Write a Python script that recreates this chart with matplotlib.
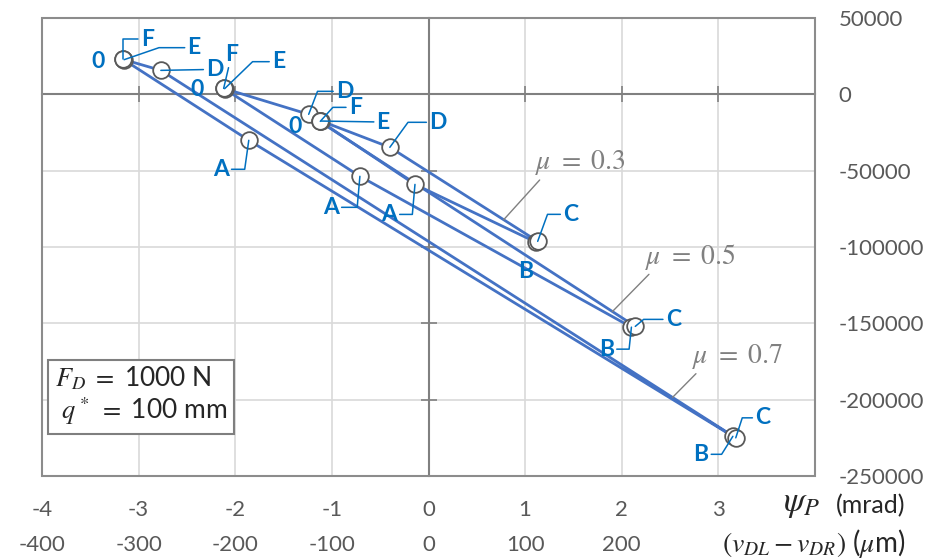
import matplotlib
matplotlib.use("Agg")
import matplotlib.pyplot as plt
from matplotlib.patches import Rectangle

plt.rcParams["font.family"] = ["Lato", "DejaVu Sans"]
plt.rcParams["mathtext.fontset"] = "stix"

# %% data: points 0, A, B, C, D, E, F of each loop
point_names = ["0", "A", "B", "C", "D", "E", "F"]
mu_values = [0.7, 0.5, 0.3]
psi_07 = [-3.16, -1.86, 3.15, 3.18, -2.77, -3.15, -3.16]
val_07 = [22900, -30100, -224000, -225000, 15700, 22700, 22900]
psi_05 = [-2.12, -0.71, 2.10, 2.14, -1.24, -2.11, -2.12]
val_05 = [3900, -53700, -152500, -152000, -13100, 3700, 3900]
psi_03 = [-1.12, -0.14, 1.11, 1.13, -0.40, -1.11, -1.12]
val_03 = [-17700, -59000, -96800, -96300, -34700, -17500, -17700]

x_ticks = [-4, -3, -2, -1, 0, 1, 2, 3, 4]
x_labels = ["-4", "-3", "-2", "-1", "0", "1", "2", "3", ""]
um_ticks = [-400, -300, -200, -100, 0, 100, 200]
y_ticks = [50000, 0, -50000, -100000, -150000, -200000, -250000]
y_labels = ["50000", "0", "-50000", "-100000", "-150000", "-200000", "-250000"]

curves = [(psi_07, val_07), (psi_05, val_05), (psi_03, val_03)]

# label placement: (curve, point, text offset px right/up, leader angle at point)
point_labels = [
    (0, "0", -25, -2, None), (0, "F", 24, 20, 90), (0, "E", 70, 12, 19),
    (0, "D", 54, 1, 0), (0, "A", -28, -29, 82), (0, "B", -32, -18, 58),
    (0, "C", 27, 20, 72),
    (1, "0", -27, -1, None), (1, "F", 8, 34, 0), (1, "E", 54, 27, 44),
    (1, "D", 36, 23, 69), (1, "A", -29, -31, 85), (1, "B", -25, -22, 84),
    (1, "C", 38, 7, 40),
    (2, "0", -25, -5, None), (2, "F", 35, 14, 48), (2, "E", 62, -1, 0),
    (2, "D", 48, 25, 54), (2, "A", -26, -30, 85), (2, "B", -10, -29, None),
    (2, "C", 33, 27, 70),
]
# mu labels: fraction along C->D line, text offset px
mu_labels = [(0, 0.11, 65, 41), (1, 0.07, 78, 55), (2, 0.23, 77, 57)]

blue = "#4472C4"
label_blue = "#0070C0"
px = 0.72  # points per pixel at dpi 100

fig = plt.figure(figsize=(9.26, 5.58), dpi=100)
ax = fig.add_axes([42 / 926, 1 - 476 / 558, 773 / 926, 458 / 558])
ax.set_xlim(-4, 4)
ax.set_ylim(-250000, 50000)

for psi, val in curves:
    ax.plot(psi + psi[:1], val + val[:1], color=blue, lw=2.0, zorder=3)
for psi, val in curves:
    ax.plot(psi, val, ls="none", marker="o", ms=12, mfc="white",
            mec="#595959", mew=1.3, zorder=4)

for ci, name, dx, dy, ang in point_labels:
    psi, val = curves[ci]
    i = point_names.index(name)
    if ang is None:
        arrow = None
    elif ang == 0:
        arrow = dict(arrowstyle="-", color=label_blue, lw=1.1, shrinkA=0, shrinkB=0)
    else:
        arrow = dict(arrowstyle="-", color=label_blue, lw=1.1, shrinkA=0, shrinkB=0,
                     connectionstyle=f"angle,angleA=0,angleB={ang},rad=0")
    ax.annotate(name, (psi[i], val[i]), xytext=(dx * px, dy * px),
                textcoords="offset points", ha="center", va="center",
                fontsize=16.5, fontweight="bold", color=label_blue,
                arrowprops=arrow, zorder=5)

for ci, t, dx, dy in mu_labels:
    psi, val = curves[ci]
    xa = psi[3] + t * (psi[4] - psi[3])
    ya = val[3] + t * (val[4] - val[3])
    ax.annotate(rf"$\mu\ =\ {mu_values[ci]}$", (xa, ya), xytext=(dx * px, dy * px),
                textcoords="offset points", ha="center", va="center",
                fontsize=20, color="#808080",
                arrowprops=dict(arrowstyle="-", color="#808080", lw=1.0,
                                shrinkA=0, shrinkB=0, relpos=(0.09, 0.05)),
                zorder=5)

# axes look: axis lines through zero, grey frame, light grid
for s in ["top", "right"]:
    ax.spines[s].set_visible(False)
for s in ["left", "bottom"]:
    ax.spines[s].set_position(("data", 0))
    ax.spines[s].set_color("#808080")
    ax.spines[s].set_linewidth(1.5)
    ax.spines[s].set_zorder(2.5)
ax.add_patch(Rectangle((0, 0), 1, 1, transform=ax.transAxes, fill=False,
                       ec="#8c8c8c", lw=1.5, zorder=2.6, clip_on=False))

ax.set_xticks(x_ticks)
ax.set_yticks(y_ticks, labels=y_labels)
ax.tick_params(axis="x", direction="inout", length=12, width=1.2, color="#808080",
               labelbottom=False)
ax.tick_params(axis="y", direction="inout", length=12, width=1.2, color="#808080",
               left=True, right=False, labelleft=False, labelright=True,
               labelsize=16, labelcolor="#595959", pad=11)
ax.grid(True, color="#d9d9d9", lw=1.2)
ax.set_axisbelow(True)

sec1 = ax.secondary_xaxis(0)
sec1.set_xticks(x_ticks, labels=x_labels)
sec2 = ax.secondary_xaxis(-35 / 458, functions=(lambda x: x * 100, lambda x: x / 100))
sec2.set_xticks(um_ticks, labels=[str(v) for v in um_ticks])
for sec in (sec1, sec2):
    sec.spines["bottom"].set_visible(False)
    sec.tick_params(length=0, pad=17, labelsize=16, labelcolor="#595959")

fig.text(905 / 926, 1 - 506 / 558, "(mrad)", ha="right", va="center",
         fontsize=18, color="#262626")
fig.text(820 / 926, 1 - 504 / 558, r"$\psi_P$", ha="right", va="center",
         fontsize=25, color="#262626")
fig.text(905 / 926, 1 - 543 / 558, r"$(v_{DL} - v_{DR})$ ($\mu$m)", ha="right",
         va="center", fontsize=20, color="#262626")

ax.text(13 / 773, 80 / 458, r"$F_D\ =\ $1000 N" + "\n" + r" $q^*\ =\ $100 mm",
        transform=ax.transAxes, ha="left", va="center", fontsize=19,
        color="#262626", linespacing=1.15, zorder=6,
        bbox=dict(boxstyle="square,pad=0.25", fc="white", ec="#7f7f7f", lw=1.5))

fig.savefig("out.png", dpi=100)
